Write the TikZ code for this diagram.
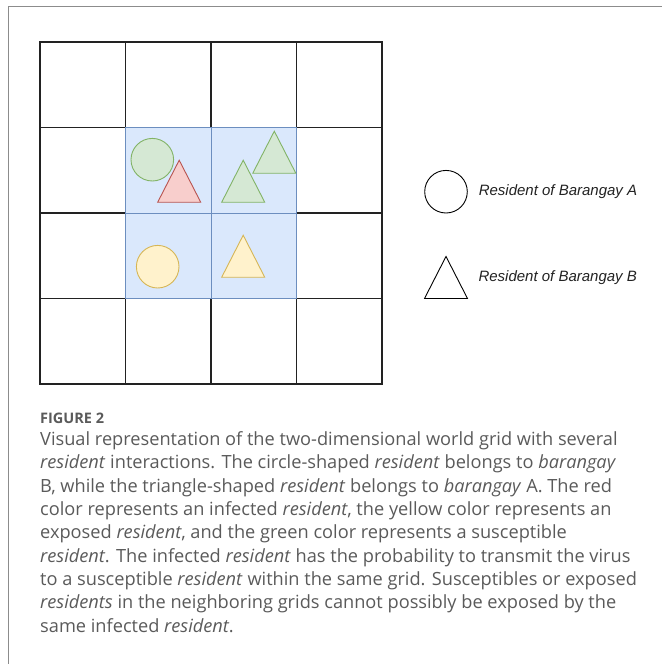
\documentclass[tikz,border=0pt]{standalone}
\usepackage{fontspec}
\setmainfont{Open Sans}
\newfontfamily\legfont{Liberation Sans}
\usetikzlibrary{positioning}
\definecolor{framegray}{HTML}{8C8C8C}
\definecolor{gridline}{HTML}{222222}
\definecolor{zonefill}{HTML}{DAE8FC}
\definecolor{zoneline}{HTML}{6C8EBF}
\definecolor{susfill}{HTML}{D5E8D4}
\definecolor{susline}{HTML}{82B366}
\definecolor{inffill}{HTML}{F8CECC}
\definecolor{infline}{HTML}{B85450}
\definecolor{expfill}{HTML}{FFF2CC}
\definecolor{expline}{HTML}{D6B656}
\definecolor{captext}{HTML}{5A5A5A}

\begin{document}
\begin{tikzpicture}[
    x=1pt,y=-1pt,
    cell/.style={rectangle,draw=gridline,line width=1.1pt,minimum size=85.5pt,inner sep=0pt,outer sep=0pt},
    zone/.style={cell,draw=zoneline,fill=zonefill,line width=0.8pt},
    resa/.style={circle,draw,line width=0.9pt,minimum size=42.6pt,inner sep=0pt},
    resb/.pic={\draw[line width=0.9pt,pic actions] (0,-21) -- (21.5,21) -- (-21.5,21) -- cycle;},
    sus/.style={draw=susline,fill=susfill},
    inf/.style={draw=infline,fill=inffill},
    expo/.style={draw=expline,fill=expfill},
    legtext/.style={font=\legfont\itshape\fontsize{15}{18}\selectfont,text=gridline,inner sep=0pt},
    capfont/.style={font=\fontsize{18.2}{23.3}\selectfont,text=captext,inner sep=0pt,align=left}
  ]
  \useasboundingbox (0,0) rectangle (662,664);
  %% Frame
  \draw[framegray,line width=1.5pt] (8.3,664) -- (8.3,6.7) -- (662,6.7);

  %% World grid
  \foreach \r in {1,...,4}{
    \foreach \c in {1,...,4}{
      \node[cell] (c\r\c) at ({40+85.5*(\c-0.5)},{42+85.5*(\r-0.5)}) {};
    }
  }
  %% Neighbouring grids
  \foreach \r/\c in {2/2,2/3,3/2,3/3}{
    \node[zone] (z\r\c) at (c\r\c) {};
  }

  %% Residents
  \node[resa,sus] (ga) at (152.3,159.7) {};
  \pic[inf] at (179.2,181.2) {resb};
  \pic[sus] at (243.2,181.2) {resb};
  \pic[sus] at (274.3,152.2) {resb};
  \node[resa,expo] (ya) at (157.7,266.7) {};
  \pic[expo] at (243.2,256.2) {resb};

  %% Legend
  \node[resa] (lega) at (446,191.7) {};
  \node[legtext,right=10.8pt of lega] (legatext) {Resident of Barangay A};
  \pic at (446,277.5) {resb};
  \node[legtext,anchor=west] (legbtext) at (478.3,277.3) {Resident of Barangay B};

  %% Caption
  \node[capfont,font=\bfseries\fontsize{14.5}{17}\selectfont,anchor=base west] (figlabel) at (40,423.3) {FIGURE 2};
  \node[capfont,anchor=base west] (caption) at (40,632) {Visual representation of the two-dimensional world grid with several\\
    \textit{resident} interactions. The circle-shaped \textit{resident} belongs to \textit{barangay}\\
    B, while the triangle-shaped \textit{resident} belongs to \textit{barangay} A. The red\\
    color represents an infected \textit{resident}, the yellow color represents an\\
    exposed \textit{resident}, and the green color represents a susceptible\\
    \textit{resident}. The infected \textit{resident} has the probability to transmit the virus\\
    to a susceptible \textit{resident} within the same grid. Susceptibles or exposed\\
    \textit{residents} in the neighboring grids cannot possibly be exposed by the\\
    same infected \textit{resident}.};
\end{tikzpicture}
\end{document}
